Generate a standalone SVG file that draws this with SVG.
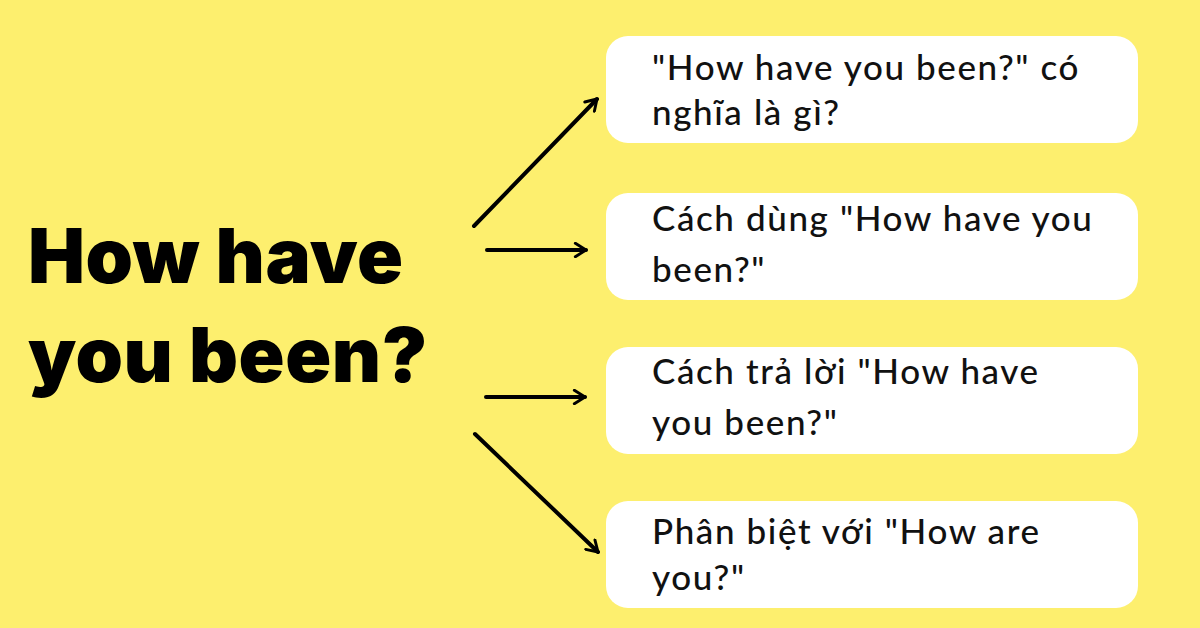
<svg xmlns="http://www.w3.org/2000/svg" width="1200" height="628" viewBox="0 0 1200 628">
<style>
.box{fill:#ffffff}
.lbl{font-family:"Lato","Liberation Sans",sans-serif;font-size:35px;fill:#111111;font-weight:500;letter-spacing:1.6px}
.title{font-family:"Inter","Lato","Liberation Sans",sans-serif;font-size:76px;font-weight:900;fill:#000000;letter-spacing:0.5px}
.conn{stroke:#000000;stroke-width:4;fill:none;stroke-linecap:round;stroke-linejoin:round}
</style>
<defs>
<marker id="ah" viewBox="0 0 12 12" refX="10" refY="6" markerWidth="4" markerHeight="4" markerUnits="strokeWidth" orient="auto">
<path d="M2,1 L10,6 L2,11" fill="none" stroke="#000" stroke-width="2.2" stroke-linecap="round" stroke-linejoin="round"/>
</marker>
</defs>
<rect width="1200" height="628" fill="#FDEF6E"/>
<g id="title">
<text class="title" x="28" y="283">How have</text>
<text class="title" x="28" y="382">you been?</text>
</g>
<g id="connectors">
<line class="conn" x1="474" y1="226" x2="597" y2="99" marker-end="url(#ah)"/>
<line class="conn" x1="487" y1="250" x2="586" y2="250" marker-end="url(#ah)"/>
<line class="conn" x1="486" y1="397" x2="585" y2="397" marker-end="url(#ah)"/>
<line class="conn" x1="475" y1="434" x2="598" y2="552" marker-end="url(#ah)"/>
</g>
<g id="node1">
<rect class="box" x="606" y="36" width="532" height="107" rx="22"/>
<text class="lbl" x="652" y="80">"How have you been?" có</text>
<text class="lbl" x="652" y="125">nghĩa là gì?</text>
</g>
<g id="node2">
<rect class="box" x="606" y="193" width="532" height="107" rx="22"/>
<text class="lbl" x="652" y="231">Cách dùng "How have you</text>
<text class="lbl" x="652" y="282">been?"</text>
</g>
<g id="node3">
<rect class="box" x="606" y="347" width="532" height="107" rx="22"/>
<text class="lbl" x="652" y="384">Cách trả lời "How have</text>
<text class="lbl" x="652" y="435">you been?"</text>
</g>
<g id="node4">
<rect class="box" x="606" y="501" width="532" height="107" rx="22"/>
<text class="lbl" x="652" y="544">Phân biệt với "How are</text>
<text class="lbl" x="652" y="590">you?"</text>
</g>
</svg>
